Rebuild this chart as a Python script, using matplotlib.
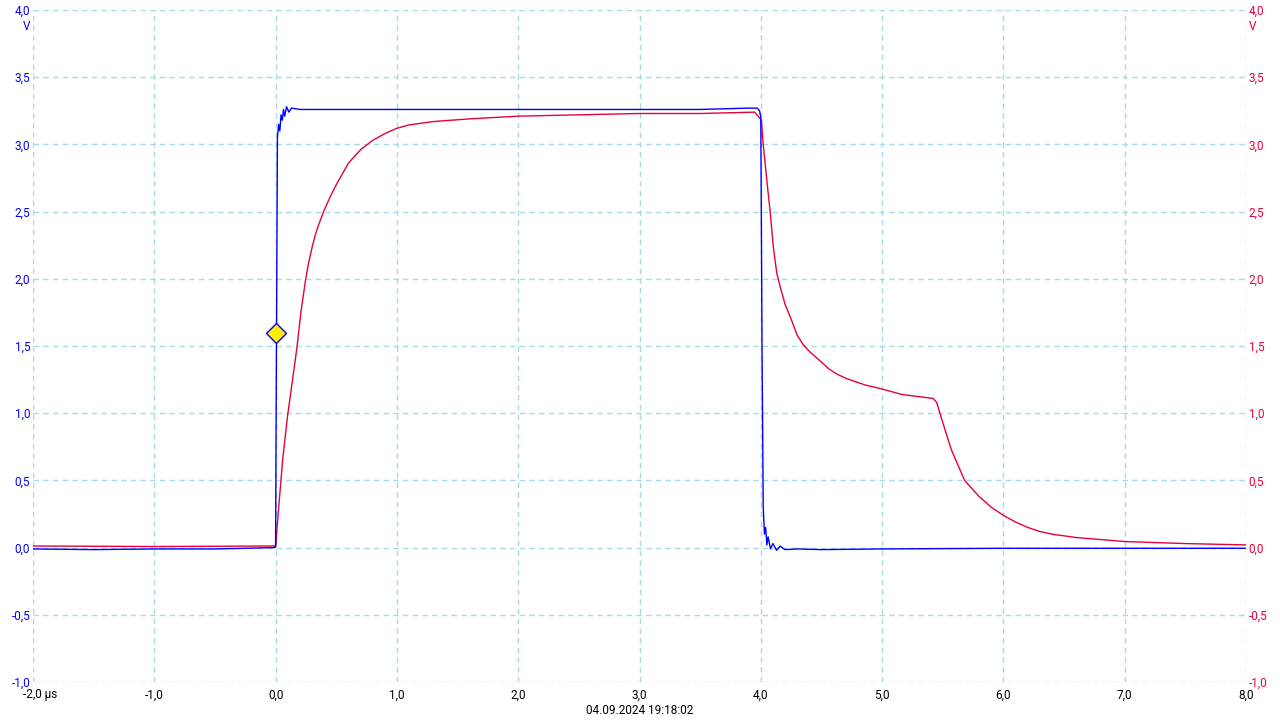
import numpy as np
import matplotlib
matplotlib.use('Agg')
import matplotlib.pyplot as plt
import matplotlib.transforms as mtrans

plt.rcParams['font.family'] = ['Roboto', 'DejaVu Sans']

# channel A (blue), time in µs, volts
blue_t = [-2.0, -1.5, -1.0, -0.5, -0.01, 0.0, 0.005, 0.015, 0.025, 0.035, 0.045, 0.055, 0.065,
          0.075, 0.09, 0.11, 0.13, 0.2, 0.5, 1.0, 2.0, 3.0, 3.5, 3.9, 3.97, 3.99, 4.0, 4.01,
          4.02, 4.03, 4.04, 4.05, 4.06, 4.08, 4.1, 4.13, 4.16, 4.2, 4.3, 4.5, 5.0, 6.0, 7.0, 8.0]
blue_v = [-0.01, -0.015, -0.01, -0.01, 0.0, 0.02, 1.1, 3.05, 3.15, 3.1, 3.22, 3.18, 3.26,
          3.21, 3.28, 3.24, 3.27, 3.26, 3.26, 3.26, 3.26, 3.26, 3.26, 3.27, 3.27, 3.25, 3.2, 1.5,
          0.3, 0.1, 0.15, 0.02, 0.08, -0.01, 0.03, -0.02, 0.01, -0.015, -0.01, -0.015, -0.01,
          -0.005, -0.005, -0.005]

# channel B (red)
red_t = [-2.0, -1.0, -0.01, 0.0, 0.019, 0.06, 0.10, 0.143, 0.176, 0.21, 0.245, 0.27, 0.30,
         0.325, 0.35, 0.40, 0.45, 0.50, 0.60, 0.70, 0.80, 0.90, 1.0, 1.1, 1.3, 1.6, 2.0, 2.5,
         3.0, 3.5, 3.95,
         4.005, 4.02, 4.05, 4.077, 4.104, 4.132, 4.16, 4.2, 4.25, 4.3, 4.35, 4.4, 4.45, 4.5,
         4.56, 4.63, 4.70, 4.78, 4.86, 5.0, 5.16, 5.33, 5.42, 5.45, 5.49, 5.57, 5.68, 5.8, 5.9,
         6.0, 6.1, 6.2, 6.3, 6.4, 6.6, 6.8, 7.0, 7.5, 8.0]
red_v = [0.012, 0.008, 0.012, 0.0, 0.23, 0.67, 0.99, 1.27, 1.49, 1.76, 1.98, 2.11, 2.23,
         2.32, 2.39, 2.51, 2.61, 2.70, 2.86, 2.96, 3.03, 3.08, 3.12, 3.145, 3.17, 3.19, 3.21,
         3.22, 3.23, 3.23, 3.24,
         3.18, 3.0, 2.73, 2.50, 2.23, 2.04, 1.94, 1.81, 1.70, 1.58, 1.51, 1.46, 1.42, 1.38,
         1.33, 1.29, 1.26, 1.235, 1.21, 1.18, 1.14, 1.12, 1.11, 1.08, 0.96, 0.73, 0.5, 0.38,
         0.30, 0.24, 0.19, 0.15, 0.12, 0.10, 0.075, 0.06, 0.045, 0.03, 0.02]

trig_t, trig_v = 0.0, 1.6

x_ticks = np.arange(-2, 8.01, 1.0)
y_ticks = np.arange(-1, 4.01, 0.5)
date_text = '04.09.2024 19:18:02'

blue = '#0000ff'
red = '#e8003a'
grid_col = '#a6dbe6'


def fmt(v):
    return ('%.1f' % v).replace('.', ',')


fig = plt.figure(figsize=(12.8, 7.2), dpi=100)
ax = fig.add_axes([33 / 1280, 38 / 720, (1246 - 33) / 1280, (682 - 10) / 720])
ax.set_xlim(-2, 8)
ax.set_ylim(-1, 4)
for s in ax.spines.values():
    s.set_visible(False)

ax.set_xticks(x_ticks)
ax.set_yticks(y_ticks)
ax.grid(True, color=grid_col, linestyle=(0, (4, 3)), linewidth=1.0)
ax.set_axisbelow(True)

ax.plot(red_t, red_v, color=red, linewidth=1.0, zorder=3)
ax.plot(blue_t, blue_v, color=blue, linewidth=1.0, zorder=4)
ax.plot([trig_t], [trig_v], marker='D', markersize=10, markerfacecolor='#ffee00',
        markeredgecolor=blue, markeredgewidth=1.0, linestyle='none', zorder=5)

ax.tick_params(length=0, labelsize=8.5)
ax.set_yticklabels([fmt(v) for v in y_ticks], color=blue)
ax.tick_params(axis='y', pad=2)
xl = [fmt(v) for v in x_ticks]
xl[0] = ''
ax.set_xticklabels(xl, color='black')
ax.tick_params(axis='x', pad=5)
# first x label with unit
off = mtrans.offset_copy(ax.transData, fig=fig, x=-10, y=-12.5, units='dots')
ax.text(-2, -1, fmt(-2) + ' µs', transform=off, ha='left', va='center',
        fontsize=8.5, color='black', clip_on=False)

ax2 = ax.twinx()
ax2.set_ylim(-1, 4)
for s in ax2.spines.values():
    s.set_visible(False)
ax2.set_yticks(y_ticks)
ax2.set_yticklabels([fmt(v) for v in y_ticks], color=red)
ax2.tick_params(length=0, labelsize=8.5, pad=2)

# unit labels under top ticks
offl = mtrans.offset_copy(ax.transData, fig=fig, x=-3, y=-17, units='dots')
ax.text(-2, 4, 'V', transform=offl, ha='right', va='center', fontsize=8.5, color=blue, clip_on=False)
offr = mtrans.offset_copy(ax.transData, fig=fig, x=3, y=-17, units='dots')
ax.text(8, 4, 'V', transform=offr, ha='left', va='center', fontsize=8.5, color=red, clip_on=False)

fig.text(640 / 1280, 1 - 711 / 720, date_text, ha='center', va='center', fontsize=8.5, color='black')

fig.savefig('out.png', dpi=100)
